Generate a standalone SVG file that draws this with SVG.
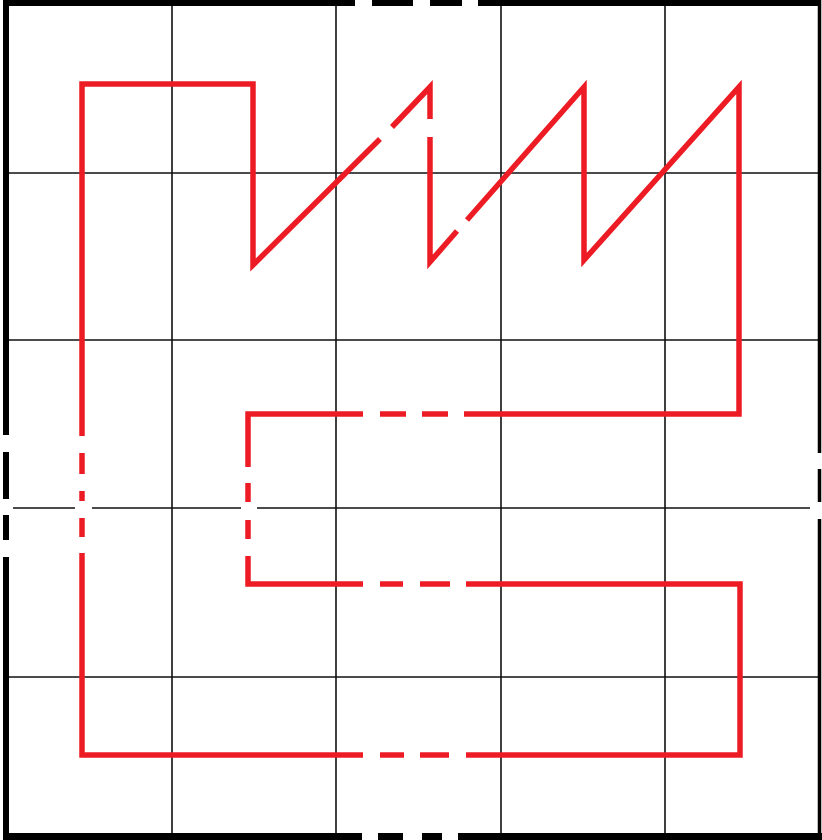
<svg xmlns="http://www.w3.org/2000/svg" width="822" height="840" viewBox="0 0 822 840">
<style>
.grid{stroke:#111;stroke-width:1.6;fill:none}
.border{stroke:#000;fill:none;stroke-linecap:butt}
.red{stroke:#ED1C24;stroke-width:5.5;fill:none;stroke-linecap:butt;stroke-linejoin:miter;stroke-miterlimit:20}
</style>
<rect width="822" height="840" fill="#fff"/>
<g id="grid" class="grid">
<path d="M172,6V834M336,6V834M501,6V834M665,6V834"/>
<path d="M9,173H818M9,340H818M9,677H818"/>
<path d="M13,508H75M92,508H241M257,508H810"/>
</g>
<g id="border" class="border">
<path stroke-width="6" d="M3,3H355M372,3H413M430,3H462M478,3H821"/>
<path stroke-width="6" d="M6,0V435M6,452V499M6,515V540M6,557V840"/>
<path stroke-width="3.5" d="M819.5,0V453M819.5,469V502M819.5,519V840"/>
<path stroke-width="7" d="M3,836.5H362M378,836.5H403M422,836.5H442M458,836.5H822"/>
</g>
<g id="route" class="red">
<path d="M82,436L82,84L253,84L253,265L380,139"/>
<path d="M392,127L430,87L430,119"/>
<path d="M430,137L430,262L457,231"/>
<path d="M467,220L584,87L584,260L739,87L739,414L464,414"/>
<path d="M448,414H422M406,414H380"/>
<path d="M363,414L248,414L248,467"/>
<path d="M248,483V502M248,520V539"/>
<path d="M248,556L248,584L363,584"/>
<path d="M380,584H403M420,584H450"/>
<path d="M466,584L740,584L740,755L466,755"/>
<path d="M449,755H420M404,755H380"/>
<path d="M363,755L82,755L82,553"/>
<path d="M82,537V518M82,501V491M82,474V453"/>
</g>
</svg>
